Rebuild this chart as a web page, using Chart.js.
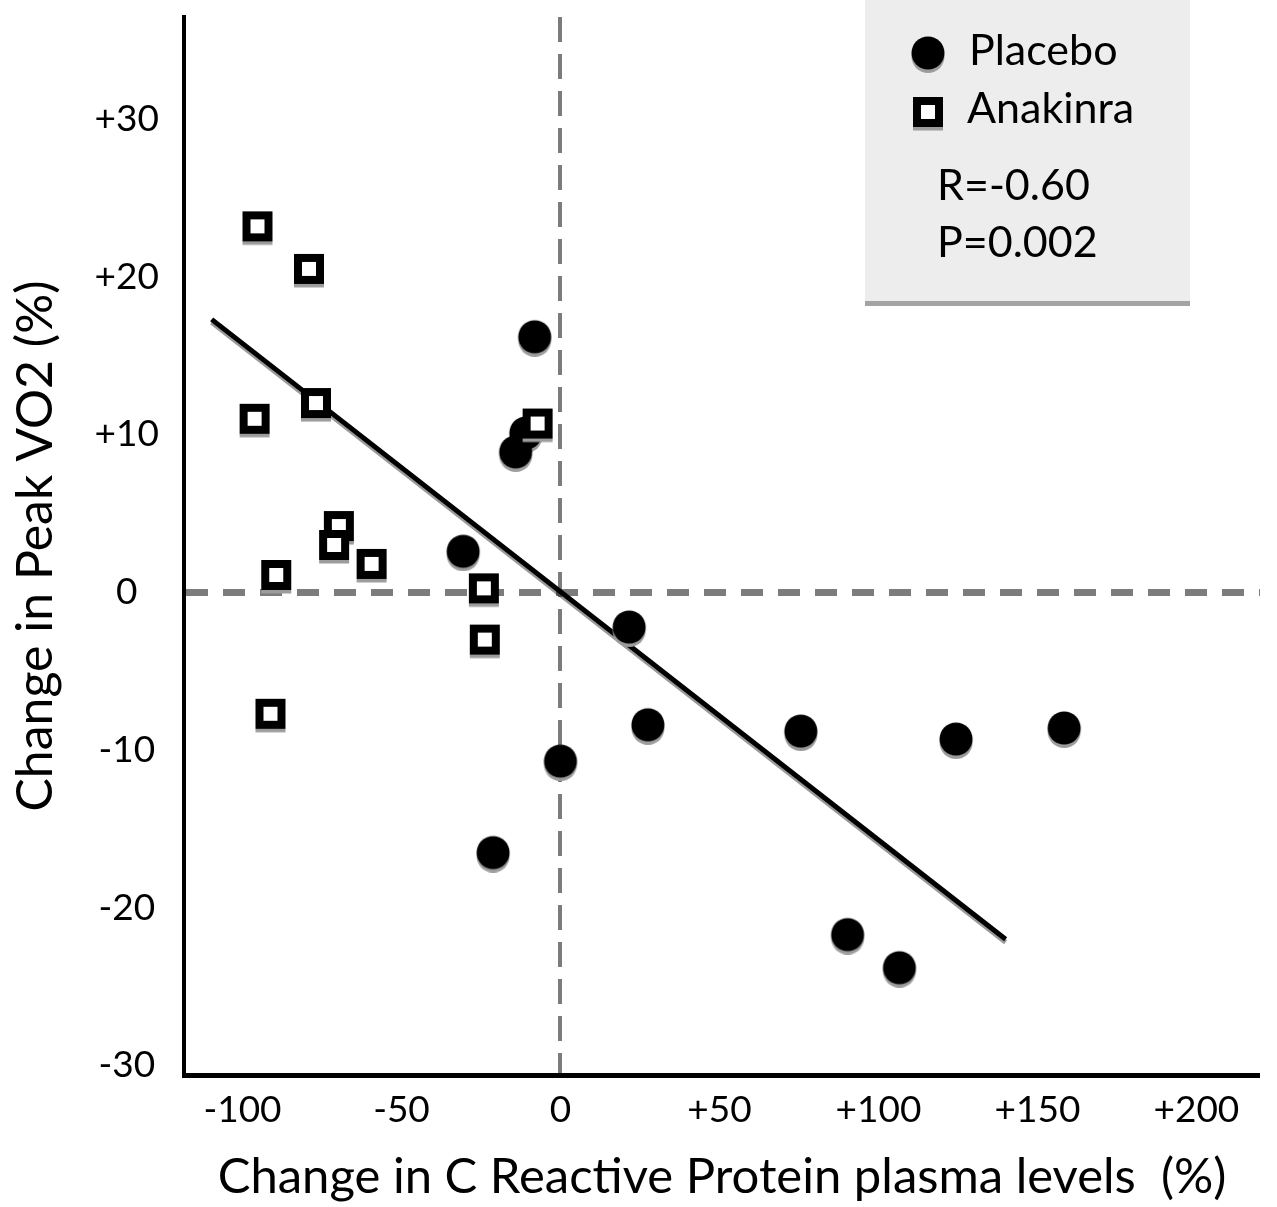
<!DOCTYPE html>
<html>
<head>
<meta charset="utf-8">
<script src="https://cdn.jsdelivr.net/npm/chart.js@4.4.1/dist/chart.umd.min.js"></script>
<style>
  html, body { margin: 0; padding: 0; background: #fff; }
  #wrap { width: 1277px; height: 1207px; }
</style>
</head>
<body>
<div id="wrap"><canvas id="crpChart" width="1277" height="1207"></canvas></div>
<script>
// values (x = change in CRP %, y = change in peak VO2 %)
const placeboX = [-8.1, -10.9, -14.1, -30.6, 21.6, 27.5, 75.6, 124.4, 158.4, 90.3, 106.6, 0, -21.2];
const placeboY = [16.2, 10.1, 8.9, 2.6, -2.2, -8.4, -8.8, -9.3, -8.6, -21.7, -23.8, -10.7, -16.5];

const anakinraX = [-95.3, -79.1, -96.2, -76.9, -69.7, -71.2, -59.4, -89.4, -24.1, -23.8, -91.2, -7.2];
const anakinraY = [23.2, 20.5, 11.0, 12.0, 4.2, 3.0, 1.8, 1.1, 0.25, -3.0, -7.7, 10.7];

// regression line end points
const fitX = [-109.7, 140];
const fitY = [17.3, -22.0];

const xTicks = [-100, -50, 0, 50, 100, 150, 200];
const yTicks = [-30, -20, -10, 0, 10, 20, 30];

const statsLines = ['R=-0.60', 'P=0.002'];

function toPoints(xs, ys) {
    return xs.map((x, i) => ({ x: x, y: ys[i] }));
}

function signed(v) {
    return v > 0 ? '+' + v : String(v);
}

// markers with the grey drop shadow under them
function makeMarker(kind) {
    const c = document.createElement('canvas');
    c.width = 40;
    c.height = 40;
    const g = c.getContext('2d');
    g.fillStyle = '#9c9c9c';
    if (kind === 'circle') {
        g.beginPath(); g.arc(20, 23.5, 16.5, 0, Math.PI * 2); g.fill();
        g.fillStyle = '#000';
        g.beginPath(); g.arc(20, 20, 16.5, 0, Math.PI * 2); g.fill();
    } else {
        g.fillRect(5, 8.5, 30, 30);
        g.fillStyle = '#000';
        g.fillRect(5, 5, 30, 30);
        g.fillStyle = '#fff';
        g.fillRect(13, 13, 14, 14);
    }
    return c;
}

const circleMark = makeMarker('circle');
const squareMark = makeMarker('square');

const lineShadowPlugin = {
    id: 'lineShadow',
    beforeDatasetDraw(chart, args) {
        if (args.meta.type !== 'line') return;
        const ctx = chart.ctx;
        ctx.save();
        ctx.shadowColor = 'rgba(0,0,0,0.4)';
        ctx.shadowOffsetX = 0;
        ctx.shadowOffsetY = 3;
        ctx.shadowBlur = 0;
    },
    afterDatasetDraw(chart, args) {
        if (args.meta.type !== 'line') return;
        chart.ctx.restore();
    }
};

// grey box top right: legend + statistics
const statsBoxPlugin = {
    id: 'statsBox',
    afterDatasetsDraw(chart) {
        const ctx = chart.ctx;
        ctx.save();
        ctx.fillStyle = '#ededed';
        ctx.fillRect(865, 0, 325, 301);
        ctx.fillStyle = '#a3a3a3';
        ctx.fillRect(865, 301, 325, 5);

        ctx.drawImage(circleMark, 908, 33);
        ctx.drawImage(squareMark, 908, 92);

        ctx.fillStyle = '#000';
        ctx.textAlign = 'left';
        ctx.textBaseline = 'alphabetic';
        ctx.font = '43px Lato';
        ctx.fillText('Placebo', 969, 65);
        ctx.fillText('Anakinra', 967, 123);
        ctx.fillText(statsLines[0], 937, 200);
        ctx.fillText(statsLines[1], 937, 257);
        ctx.restore();
    }
};

function createChart() {
    const ctx = document.getElementById('crpChart').getContext('2d');
    Chart.defaults.font.family = 'Lato';
    Chart.defaults.color = '#000';

    new Chart(ctx, {
        type: 'scatter',
        data: {
            datasets: [
                {
                    label: 'Anakinra',
                    data: toPoints(anakinraX, anakinraY),
                    pointStyle: squareMark,
                    pointRadius: 15,
                    order: 1
                },
                {
                    label: 'Placebo',
                    data: toPoints(placeboX, placeboY),
                    pointStyle: circleMark,
                    pointRadius: 16,
                    order: 2
                },
                {
                    type: 'line',
                    label: 'fit',
                    data: toPoints(fitX, fitY),
                    borderColor: '#000',
                    borderWidth: 5,
                    pointRadius: 0,
                    fill: false,
                    order: 3
                }
            ]
        },
        options: {
            responsive: false,
            animation: false,
            layout: { padding: { top: 12, right: 10, left: 0, bottom: 0 } },
            plugins: {
                legend: { display: false },
                tooltip: { enabled: false }
            },
            scales: {
                x: {
                    type: 'linear',
                    min: -118.4,
                    max: 220,
                    afterBuildTicks: s => { s.ticks = xTicks.map(v => ({ value: v })); },
                    afterFit: s => {
                        s.height = 132;
                        s.paddingLeft = 0;
                        s.paddingRight = 0;
                    },
                    grid: {
                        drawTicks: false,
                        color: c => (c.tick && c.tick.value === 0 ? '#7c7c7c' : 'rgba(0,0,0,0)'),
                        lineWidth: c => (c.tick && c.tick.value === 0 ? 4 : 0)
                    },
                    border: { color: '#000', width: 5, dash: [25, 12] },
                    ticks: {
                        padding: 13,
                        font: { size: 37 },
                        callback: v => signed(v)
                    },
                    title: {
                        display: true,
                        text: 'Change in C Reactive Protein plasma levels  (%)',
                        font: { size: 49 },
                        padding: { top: 0, bottom: 0 }
                    }
                },
                y: {
                    type: 'linear',
                    min: -30.6,
                    max: 36.47,
                    afterBuildTicks: s => { s.ticks = yTicks.map(v => ({ value: v })); },
                    afterFit: s => {
                        s.width = 184;
                        s.paddingTop = 0;
                        s.paddingBottom = 0;
                    },
                    grid: {
                        drawTicks: false,
                        color: c => (c.tick && c.tick.value === 0 ? '#7c7c7c' : 'rgba(0,0,0,0)'),
                        lineWidth: c => (c.tick && c.tick.value === 0 ? 7 : 0)
                    },
                    border: { color: '#000', width: 4, dash: [22, 15] },
                    ticks: {
                        padding: 25,
                        crossAlign: 'center',
                        font: { size: 37 },
                        callback: v => signed(v)
                    },
                    title: {
                        display: true,
                        text: 'Change in Peak VO2 (%)',
                        font: { size: 50 },
                        padding: { top: 6, bottom: 0 }
                    }
                }
            }
        },
        plugins: [lineShadowPlugin, statsBoxPlugin]
    });
}

if (document.fonts && document.fonts.load) {
    document.fonts.load('42px Lato').then(createChart, createChart);
} else {
    createChart();
}
</script>
</body>
</html>
